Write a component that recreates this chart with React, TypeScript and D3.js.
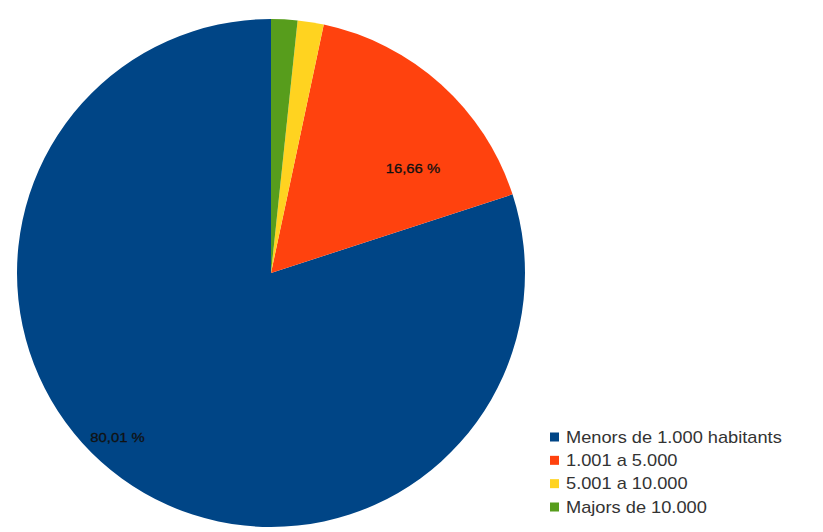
import React from "react";
import * as d3 from "d3";

const categories = ["Menors de 1.000 habitants", "1.001 a 5.000", "5.001 a 10.000", "Majors de 10.000"];
const values = [80.01, 16.66, 1.66, 1.67];
const labels = ["80,01 %", "16,66 %", "1,66 %", "1,67 %"];
const colors = ["#004586", "#ff420e", "#ffd320", "#579d1c"];

const W = 823;
const H = 532;
const cx = 271;
const cy = 273;
const R = 254;

export default function App() {
  const data = categories.map((c, i) => ({ c, v: values[i], label: labels[i], color: colors[i] }));
  const pie = d3
    .pie<any>()
    .value((d: any) => d.v)
    .sort(null)
    .startAngle(0)
    .endAngle(-2 * Math.PI);
  const arcs = pie(data);
  const arc = d3.arc<any>().innerRadius(0).outerRadius(R);
  const labelArc = d3.arc<any>().innerRadius(R * 0.7).outerRadius(R * 0.7);
  const labelShift = [
    [-49, 20],
    [23, 27],
    [0, 0],
    [0, 0],
  ];
  const legendY = d3.scalePoint<number>().domain(d3.range(categories.length)).range([437, 507]);

  return (
    <svg
      width={W}
      height={H}
      style={{ position: "absolute", left: 0, top: 0, background: "#fff" }}
      fontFamily="'Liberation Sans', Arial, sans-serif"
    >
      <g transform={`translate(${cx},${cy})`}>
        {arcs.map((a, i) => (
          <path key={i} d={arc(a) as string} fill={a.data.color} />
        ))}
        {arcs.map((a, i) => {
          if (i > 1) return null;
          const [x, y] = labelArc.centroid(a);
          return (
            <g key={"l" + i} transform={`translate(${x + labelShift[i][0]},${y + labelShift[i][1]}) scale(1.1,1)`}>
              <text
                x={0}
                y={0}
                textAnchor="middle"
                dominantBaseline="central"
                fontSize={13.5}
                fill="#111"
                stroke="#111"
                strokeWidth={0.3}
              >
                {a.data.label}
              </text>
            </g>
          );
        })}
      </g>
      <g>
        {data.map((d, i) => (
          <g key={"lg" + i} transform={`translate(550,${legendY(i)})`}>
            <rect x={0} y={-4.5} width={9} height={9} fill={d.color} />
            <g transform="translate(16,0) scale(1.14,1)">
              <text x={0} y={0} dominantBaseline="central" fontSize={16} fill="#333">
                {d.c}
              </text>
            </g>
          </g>
        ))}
      </g>
    </svg>
  );
}
